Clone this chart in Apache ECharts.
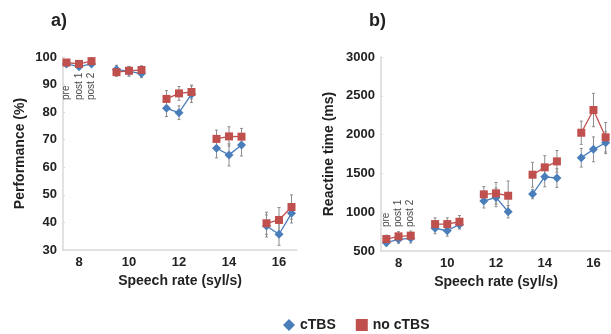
<!DOCTYPE html>
<html>
<head>
<meta charset="utf-8">
<script src="https://cdn.jsdelivr.net/npm/echarts@6/dist/echarts.min.js"></script>
<style>
  html, body { margin: 0; padding: 0; background: #fff; }
  #chart { width: 611px; height: 334px; }
</style>
</head>
<body>
<div id="chart"></div>
<script>
// 语速 (syl/s) 与三次测量
var rates = [8, 10, 12, 14, 16];
var sessions = ['pre', 'post 1', 'post 2'];
var offsets = [-0.5, 0, 0.5];

// a) Performance (%)
var perfCtbs   = [[97.5, 96.5, 97.5], [95.5, 94.8, 94.0], [81.4, 79.8, 86.5], [66.9, 64.5, 68.1], [38.7, 35.7, 43.3]];
var perfCtbsE  = [[1.0, 1.0, 1.0], [1.5, 1.8, 1.5], [3.0, 2.5, 3.0], [3.5, 4.0, 4.0], [4.0, 4.0, 3.5]];
var perfNo     = [[98.0, 97.5, 98.5], [94.5, 95.0, 95.3], [84.8, 86.8, 87.3], [70.3, 71.2, 71.1], [39.7, 40.9, 45.6]];
var perfNoE    = [[1.0, 1.0, 1.0], [1.5, 1.5, 1.5], [3.0, 2.5, 2.5], [3.2, 3.5, 3.0], [4.0, 4.5, 4.4]];

// b) Reaction time (ms)
var rtCtbs   = [[607, 650, 663], [792, 761, 843], [1144, 1191, 1006], [1234, 1457, 1440], [1702, 1810, 1895]];
var rtCtbsE  = [[40, 50, 60], [70, 70, 60], [90, 120, 80], [60, 130, 120], [120, 160, 140]];
var rtNo     = [[654, 689, 697], [847, 847, 877], [1230, 1243, 1212], [1483, 1578, 1655], [2024, 2317, 1965]];
var rtNoE    = [[50, 60, 60], [80, 80, 80], [100, 140, 190], [160, 150, 140], [150, 215, 190]];

var blue = '#4a7ebb';
var red = '#c0504d';
var font = 'Liberation Sans, Arial, sans-serif';

function lineData(vals) {
    var out = [];
    rates.forEach(function (r, i) {
        offsets.forEach(function (o, j) {
            out.push([r + o, vals[i][j]]);
        });
        out.push([r + 0.5, '-']);
    });
    return out;
}

function errData(vals, errs) {
    var out = [];
    rates.forEach(function (r, i) {
        offsets.forEach(function (o, j) {
            out.push([r + o, vals[i][j] - errs[i][j], vals[i][j] + errs[i][j]]);
        });
    });
    return out;
}

function renderErr(params, api) {
    var x = api.value(0);
    var lo = api.coord([x, api.value(1)]);
    var hi = api.coord([x, api.value(2)]);
    var st = { stroke: '#8c8c8c', lineWidth: 1 };
    return {
        type: 'group',
        children: [
            { type: 'line', shape: { x1: lo[0], y1: lo[1], x2: hi[0], y2: hi[1] }, style: st },
            { type: 'line', shape: { x1: lo[0] - 1.5, y1: lo[1], x2: lo[0] + 1.5, y2: lo[1] }, style: st },
            { type: 'line', shape: { x1: hi[0] - 1.5, y1: hi[1], x2: hi[0] + 1.5, y2: hi[1] }, style: st }
        ]
    };
}

function errSeries(idx, vals, errs) {
    return {
        type: 'custom', xAxisIndex: idx, yAxisIndex: idx, z: 1,
        renderItem: renderErr, silent: true,
        encode: { x: 0, y: [1, 2] },
        data: errData(vals, errs)
    };
}

function lineSeries(idx, name, vals, color, symbol) {
    return {
        name: name, type: 'line', xAxisIndex: idx, yAxisIndex: idx, z: 3,
        symbol: symbol, symbolSize: symbol === 'diamond' ? 9 : 8,
        connectNulls: false,
        itemStyle: { color: color },
        lineStyle: { color: color, width: 1.3 },
        data: lineData(vals)
    };
}

function sessionSeries(idx, y) {
    return {
        type: 'scatter', xAxisIndex: idx, yAxisIndex: idx, symbolSize: 0, silent: true,
        label: {
            show: true, position: 'inside', rotate: 90, align: 'left', verticalAlign: 'middle',
            color: '#111', fontSize: 10, fontFamily: font,
            formatter: function (p) { return sessions[p.dataIndex]; }
        },
        data: offsets.map(function (o) { return [rates[0] + o, y]; })
    };
}

function xAxis(idx, min, max) {
    return {
        type: 'value', gridIndex: idx, min: min, max: max,
        name: 'Speech rate (syl/s)', nameLocation: 'middle', nameGap: 21,
        nameTextStyle: { fontSize: 14, fontWeight: 'bold', color: '#222', fontFamily: font },
        axisLine: { lineStyle: { color: '#d9d9d9', width: 1.5 } },
        axisTick: { show: false },
        splitLine: { show: false },
        axisLabel: { customValues: rates, margin: 6, fontSize: 13, fontWeight: 'bold', color: '#222', fontFamily: font }
    };
}

function yAxis(idx, name, min, max, interval, gap) {
    return {
        type: 'value', gridIndex: idx, min: min, max: max, interval: interval,
        name: name, nameLocation: 'middle', nameGap: gap,
        nameTextStyle: { fontSize: 14, fontWeight: 'bold', color: '#222', fontFamily: font },
        axisLine: { show: true, lineStyle: { color: '#d9d9d9', width: 1.5 } },
        axisTick: { show: true, length: 2, inside: true, lineStyle: { color: '#d9d9d9' } },
        splitLine: { show: false },
        axisLabel: {
            margin: 6, fontSize: 13, fontWeight: 'bold', color: '#222', fontFamily: font,
            formatter: function (v) { return String(v); }
        }
    };
}

var myChart = echarts.init(document.getElementById('chart'));
var option = {
    animation: false,
    title: [
        { text: 'a)', left: 46, top: 7, textStyle: { fontSize: 18, fontWeight: 'bold', color: '#222', fontFamily: font } },
        { text: 'b)', left: 364, top: 7, textStyle: { fontSize: 18, fontWeight: 'bold', color: '#222', fontFamily: font } }
    ],
    legend: {
        left: 278, top: 313, itemGap: 20, itemWidth: 12, itemHeight: 12,
        textStyle: { fontSize: 14, fontWeight: 'bold', color: '#222', fontFamily: font },
        data: [{ name: 'cTBS', icon: 'diamond' }, { name: 'no cTBS', icon: 'rect' }]
    },
    grid: [
        { left: 63, top: 57, width: 234, height: 193 },
        { left: 381, top: 57, width: 236, height: 194 }
    ],
    xAxis: [xAxis(0, 7.36, 16.72), xAxis(1, 7.28, 16.72)],
    yAxis: [
        yAxis(0, 'Performance (%)', 30, 100, 10, 36),
        yAxis(1, 'Reactine time (ms)', 500, 3000, 500, 45)
    ],
    series: [
        errSeries(0, perfCtbs, perfCtbsE),
        errSeries(0, perfNo, perfNoE),
        lineSeries(0, 'cTBS', perfCtbs, blue, 'diamond'),
        lineSeries(0, 'no cTBS', perfNo, red, 'rect'),
        sessionSeries(0, 84.4),
        errSeries(1, rtCtbs, rtCtbsE),
        errSeries(1, rtNo, rtNoE),
        lineSeries(1, 'cTBS', rtCtbs, blue, 'diamond'),
        lineSeries(1, 'no cTBS', rtNo, red, 'rect'),
        sessionSeries(1, 809)
    ]
};
myChart.setOption(option);
</script>
</body>
</html>
